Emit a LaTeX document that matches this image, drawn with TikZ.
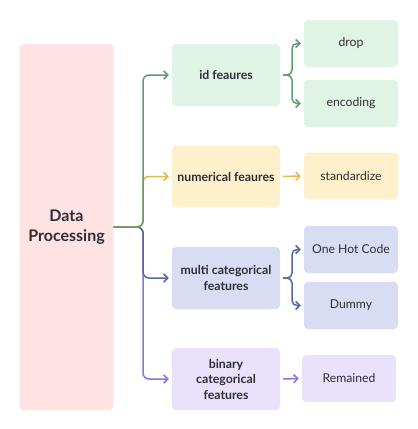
\documentclass[tikz,border=0pt]{standalone}
\usepackage{fontspec}
\setmainfont{Lato}
\usetikzlibrary{arrows.meta}
\definecolor{txt}{HTML}{2E2E36}
\definecolor{pinkf}{HTML}{FFE3E3}
\definecolor{greenl}{HTML}{5C9E6E}
\definecolor{greenf}{HTML}{DFF4E4}
\definecolor{yell}{HTML}{E2B850}
\definecolor{yelf}{HTML}{FFF0CC}
\definecolor{bluel}{HTML}{5567A8}
\definecolor{bluef}{HTML}{D9DDF4}
\definecolor{purl}{HTML}{8C74D8}
\definecolor{purf}{HTML}{EAE2FD}
\begin{document}
\begin{tikzpicture}[x=1pt,y=-1pt,
  box/.style={rounded corners=4pt, inner sep=0pt, align=center, text=txt,
    font=\fontsize{12.2}{15.5}\selectfont},
  mid/.style={box, minimum width=108pt, minimum height=62pt,
    font=\bfseries\fontsize{12.3}{15.5}\selectfont},
  leaf/.style={box, minimum width=94pt, minimum height=47pt},
  conn/.style={line width=1.5pt, rounded corners=6pt,
    -{Straight Barb[length=4pt,width=8pt,line width=1.5pt]}, shorten >=3pt},
  brc/.style={conn, shorten <=3pt, rounded corners=5pt}]
\useasboundingbox[fill=white] (0,0) rectangle (418,429);

\node[box, fill=pinkf, minimum width=94pt, minimum height=366pt,
  font=\bfseries\fontsize{16}{20.5}\selectfont] (dp) at (66.5,227) {Data\\Processing};

\node[mid, fill=greenf] (id) at (226,75) {id feaures};
\node[mid, fill=yelf] (num) at (226,176.5) {numerical feaures};
\node[mid, fill=bluef] (multi) at (226,278) {multi categorical\\features};
\node[mid, fill=purf] (bin) at (226,379) {binary\\categorical\\features};

\node[leaf, fill=greenf] (drop) at (351,43.5) {drop};
\node[leaf, fill=greenf] (enc) at (351,103.5) {encoding};
\node[leaf, fill=yelf] (std) at (351,176) {standardize};
\node[leaf, fill=bluef] (one) at (351,249.5) {One Hot Code};
\node[leaf, fill=bluef] (dum) at (351,305.5) {Dummy};
\node[leaf, fill=purf] (rem) at (349,378.5) {Remained};

\coordinate (j) at (143,227);
\coordinate (b1) at (292,75);
\coordinate (b2) at (292,278);

\draw[conn, purl] (dp.east) -| (j |- bin.west) -- (bin.west);
\draw[conn, bluel] (dp.east) -| (j |- multi.west) -- (multi.west);
\draw[conn, yell] (dp.east) -| (j |- num.west) -- (num.west);
\draw[conn, greenl] (dp.east) -| (j |- id.west) -- (id.west);

\draw[brc, greenl] (id.east) -| (b1 |- drop.west) -- (drop.west);
\draw[brc, greenl] (id.east) -| (b1 |- enc.west) -- (enc.west);
\draw[brc, yell] (num.east) -- (std.west);
\draw[brc, bluel] (multi.east) -| (b2 |- one.west) -- (one.west);
\draw[brc, bluel] (multi.east) -| (b2 |- dum.west) -- (dum.west);
\draw[brc, purl] (bin.east) -- (rem.west);
\end{tikzpicture}
\end{document}
